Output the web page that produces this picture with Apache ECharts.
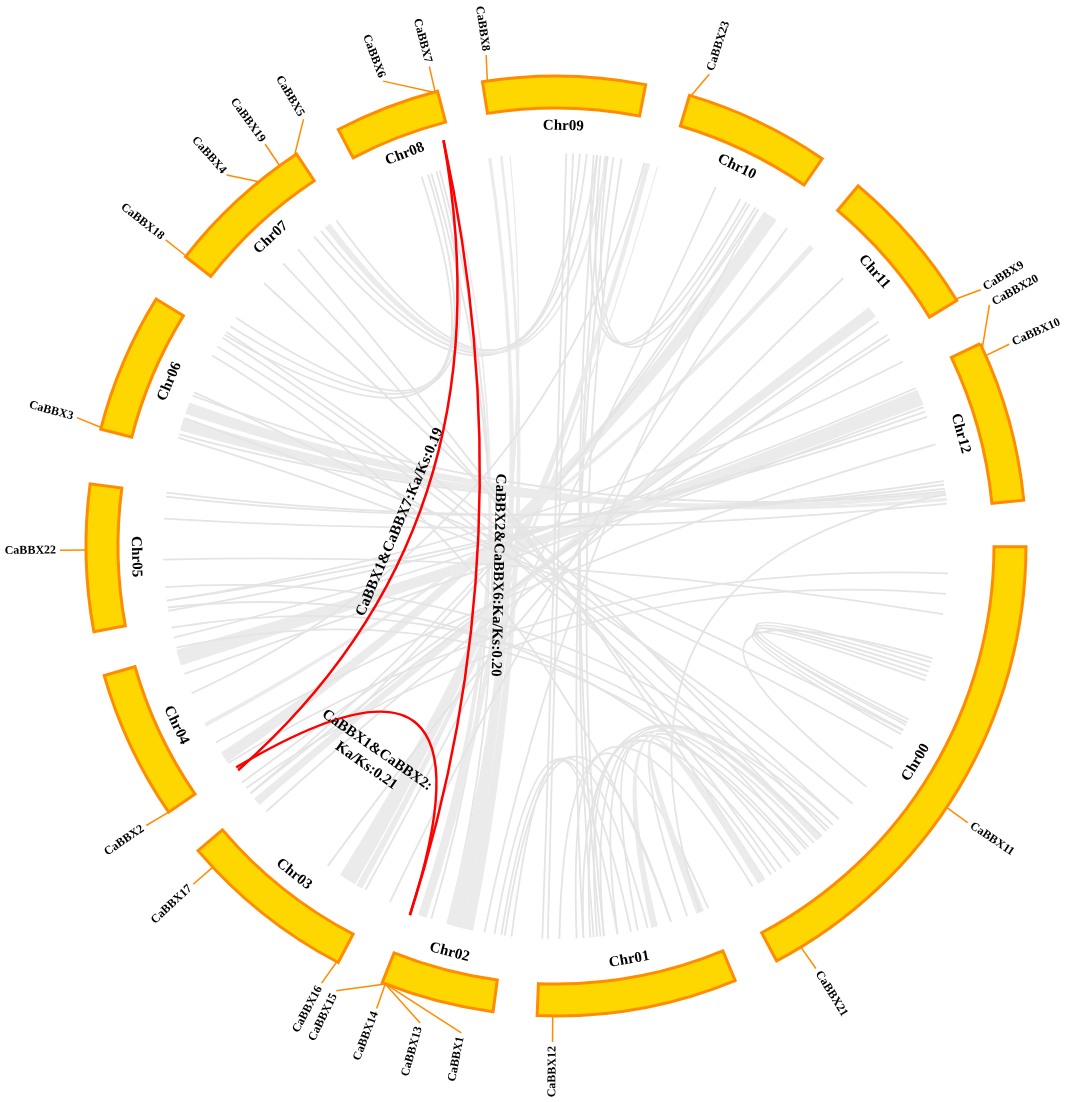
<!DOCTYPE html>
<html>
<head>
<meta charset="utf-8">
<script src="https://cdn.jsdelivr.net/npm/echarts/dist/echarts.min.js"></script>
<style>
html, body { margin: 0; padding: 0; background: #fff; }
#main { width: 1065px; height: 1102px; }
</style>
</head>
<body>
<div id="main"></div>
<script>
// angles are degrees clockwise from 12 o'clock
const chrNames = ['Chr00', 'Chr01', 'Chr02', 'Chr03', 'Chr04', 'Chr05', 'Chr06', 'Chr07', 'Chr08', 'Chr09', 'Chr10', 'Chr11', 'Chr12'];
const chrStart = [90.1, 157.6, 187.7, 207.6, 235.5, 259.5, 284.4, 308, 332.4, 351, 16.5, 40, 64.5];
const chrEnd = [152, 182.3, 201.7, 229.6, 254, 277.6, 301.7, 326.5, 345.4, 371, 34.5, 58.5, 84.4];

const geneNames = ['CaBBX1', 'CaBBX2', 'CaBBX3', 'CaBBX4', 'CaBBX5', 'CaBBX6', 'CaBBX7', 'CaBBX8', 'CaBBX9', 'CaBBX10',
  'CaBBX11', 'CaBBX12', 'CaBBX13', 'CaBBX14', 'CaBBX15', 'CaBBX16', 'CaBBX17', 'CaBBX18', 'CaBBX19', 'CaBBX20',
  'CaBBX21', 'CaBBX22', 'CaBBX23'];
const geneAngle = [201.3, 235.5, 284.6, 320.8, 326.2, 344.9, 345.1, 351.6, 58.3, 66.1,
  123.8, 180.4, 201.3, 201.3, 201.3, 207.8, 226.9, 308.1, 324, 65.1,
  148.6, 269.5, 16.7];
const geneLabelAngle = [191, 235.7, 285, 318.4, 329.4, 339.6, 345.2, 351.9, 58.9, 66,
  123.9, 180.4, 195.9, 201.2, 206.3, 208.2, 227, 308.1, 324.1, 60.9,
  148.4, 269.5, 18];

// collinear blocks: [angle A, angle B, width at A, width at B] (widths in degrees, 0 = single line)
const grayLinks = [
  [341.5, 196, 0, 0], [342.8, 198.5, 0, 0], [344, 200, 0, 0.8],
  [350.3, 195, 0.3, 2.2], [352, 193, 0.2, 1.5], [353.3, 199.8, 0, 1],
  [6, 173.5, 0, 0], [7.2, 174.5, 0, 0], [8.4, 176, 0, 0], [9.6, 173, 0, 0],
  [322, 4.5, 0, 0], [323.3, 6, 0, 0], [324.5, 7.5, 0.8, 0.3], [326, 3.5, 0, 0],
  [302.5, 341, 0, 0], [304, 342.3, 0, 0], [305.5, 340, 0, 0],
  [6.5, 29, 0, 0], [7.5, 31, 0, 0], [5.5, 28, 0, 0],
  [33, 237.5, 2, 1.5], [29.5, 229, 0, 0], [30.5, 231, 0, 0], [24, 209, 0, 0],
  [13.5, 212, 0.5, 2.4], [15, 210, 0, 0.8], [40.5, 243, 0.6, 0.4],
  [53.5, 229.5, 1.5, 1], [55.2, 231, 0, 0], [57.5, 227.5, 0, 0], [58.2, 233, 0, 0],
  [67.8, 253.5, 2.2, 2.2], [69.3, 251, 0, 0], [66.3, 256.5, 0, 0], [70, 260.5, 0, 0], [70.8, 262, 0, 0],
  [81.6, 286.5, 0, 0], [82.4, 288, 0.4, 1.6], [83.2, 290.5, 0.3, 1.6], [82, 292.5, 0, 0],
  [81, 277.8, 0, 0], [83.8, 274, 0, 0], [80.5, 277.2, 0, 0],
  [286, 121, 0, 0], [289, 118, 0, 0], [293, 131, 0, 0],
  [302, 138, 0, 0], [300.5, 140.5, 0, 0], [303, 134, 0, 0],
  [312, 136.5, 0, 0], [316, 146, 0, 0], [319, 148, 0, 0],
  [107.2, 116.2, 0, 0], [107.9, 117.1, 0, 0], [108.6, 117.9, 0, 0], [109.3, 116.7, 0, 0], [110, 118.6, 0, 0], [106.6, 127.8, 0, 0],
  [177, 157.2, 0, 0], [173, 136, 0, 0], [171, 139, 0, 0], [175, 141.6, 0, 0], [168, 146.8, 0, 0],
  [176, 135.2, 0, 0], [165.5, 138, 0.8, 0.8], [160.5, 143.5, 0, 0], [158.5, 148.5, 1, 1],
  [179.5, 150, 0, 0], [174, 145, 0, 0],
  [188, 166.5, 0, 0], [186.5, 171, 0, 0], [189, 169, 0, 0], [187.5, 163, 0, 0],
  [182, 1.5, 0, 0], [181.2, 2.5, 0, 0],
  [255, 140, 0, 0], [258, 137.5, 0, 0], [264, 134, 0, 0], [261, 142, 0, 0],
  [232, 97, 0, 0], [236.5, 94, 0, 0], [262, 62, 0, 0], [190.5, 31, 0, 0], [215.5, 47, 0, 0],
  [248, 13, 0, 0], [268, 100, 0, 0], [240, 75, 0, 0], [36, 205, 0, 0], [82.5, 158.5, 0, 0], [163, 299, 0, 0]
];

// highlighted pairs: [angle A, radius A, angle B, radius B]
const redLinks = [
  [234.8, 389, 344.5, 421],
  [235.3, 389, 201.6, 397],
  [344.5, 421, 201.6, 397]
];
const redLabelText = ['CaBBX1&CaBBX7:Ka/Ks:0.19', 'CaBBX2&CaBBX6:Ka/Ks:0.20', 'CaBBX1&CaBBX2:\nKa/Ks:0.21'];
const redLabelAngle = [278.7, 243.4, 221];
const redLabelRadius = [158, 65, 281];
const redLabelRotation = [67, -91.4, -35];

const LINK_R = 393;
const CHR_R0 = 438, CHR_R1 = 470;
const TICK_R = 496, GENE_LABEL_R = 500, CHR_LABEL_R = 420;
const FONT = '"Liberation Serif", "Times New Roman", serif';

const fmt = p => p[0].toFixed(1) + ' ' + p[1].toFixed(1);

function ctrl(O, P, Q, k) {
  return [O[0] + k * ((P[0] + Q[0]) / 2 - O[0]), O[1] + k * ((P[1] + Q[1]) / 2 - O[1])];
}

function linePath(api, a, ra, b, rb, k) {
  const O = api.coord([0, 0]);
  const P = api.coord([ra, a]), Q = api.coord([rb, b]);
  return 'M' + fmt(P) + 'Q' + fmt(ctrl(O, P, Q, k)) + ' ' + fmt(Q);
}

function ribbonPath(api, a, b, wa, wb, r, k) {
  const O = api.coord([0, 0]);
  const A1 = api.coord([r, a - wa / 2]), A2 = api.coord([r, a + wa / 2]);
  const B1 = api.coord([r, b - wb / 2]), B2 = api.coord([r, b + wb / 2]);
  return 'M' + fmt(A1) + 'L' + fmt(A2) + 'Q' + fmt(ctrl(O, A2, B1, k)) + ' ' + fmt(B1) +
    'L' + fmt(B2) + 'Q' + fmt(ctrl(O, B2, A1, k)) + ' ' + fmt(A1) + 'Z';
}

function norm(a) { return ((a % 360) + 360) % 360; }

const chart = echarts.init(document.getElementById('main'));

chart.setOption({
  animation: false,
  backgroundColor: '#fff',
  polar: { center: [556, 546], radius: [0, 560] },
  angleAxis: { type: 'value', min: 0, max: 360, startAngle: 90, clockwise: true, show: false },
  radiusAxis: { type: 'value', min: 0, max: 560, show: false },
  series: [
    {
      type: 'custom',
      coordinateSystem: 'polar',
      silent: true,
      z: 1,
      data: grayLinks,
      renderItem: (params, api) => {
        const a = api.value(0), b = api.value(1), wa = api.value(2), wb = api.value(3);
        if (!wa && !wb) {
          return {
            type: 'path', shape: { pathData: linePath(api, a, LINK_R, b, LINK_R, 0.1) },
            style: { fill: null, stroke: '#e4e4e4', lineWidth: 1.8 }
          };
        }
        return {
          type: 'path', shape: { pathData: ribbonPath(api, a, b, wa, wb, LINK_R, 0.1) },
          style: { fill: '#ebebeb', stroke: '#ebebeb', lineWidth: 1.2 }
        };
      }
    },
    {
      type: 'custom',
      coordinateSystem: 'polar',
      silent: true,
      z: 2,
      data: redLinks,
      renderItem: (params, api) => ({
        type: 'path',
        shape: { pathData: linePath(api, api.value(0), api.value(1), api.value(2), api.value(3), 0.2) },
        style: { fill: null, stroke: '#ff0000', lineWidth: 2.5 }
      })
    },
    {
      type: 'custom',
      coordinateSystem: 'polar',
      silent: true,
      z: 3,
      data: redLabelAngle.map((a, i) => [redLabelRadius[i], a]),
      renderItem: (params, api) => {
        const i = params.dataIndex;
        const p = api.coord([api.value(0), api.value(1)]);
        return {
          type: 'text', x: p[0], y: p[1], rotation: redLabelRotation[i] * Math.PI / 180,
          style: {
            text: redLabelText[i], fill: '#000', fontSize: 15, fontWeight: 'bold', fontFamily: FONT,
            align: 'center', verticalAlign: 'middle', lineHeight: 19
          }
        };
      }
    },
    {
      type: 'custom',
      coordinateSystem: 'polar',
      silent: true,
      z: 4,
      data: chrStart.map((s, i) => [s, chrEnd[i]]),
      renderItem: (params, api) => {
        const i = params.dataIndex;
        const s = api.value(0), e = api.value(1);
        const O = api.coord([0, 0]);
        const P = api.coord([CHR_R1, s]), Q = api.coord([CHR_R1, e]);
        const sa = Math.atan2(P[1] - O[1], P[0] - O[0]);
        let ea = Math.atan2(Q[1] - O[1], Q[0] - O[0]);
        while (ea < sa) ea += Math.PI * 2;
        const m = (s + e) / 2;
        const L = api.coord([CHR_LABEL_R, m]);
        const n = norm(m);
        const rot = (n > 90 && n < 270) ? 180 - n : -n;
        return {
          type: 'group',
          children: [
            {
              type: 'sector',
              shape: { cx: O[0], cy: O[1], r0: CHR_R0, r: CHR_R1, startAngle: sa, endAngle: ea, clockwise: true },
              style: { fill: '#ffd700', stroke: '#ff8c00', lineWidth: 3 }
            },
            {
              type: 'text', x: L[0], y: L[1], rotation: rot * Math.PI / 180,
              style: {
                text: chrNames[i], fill: '#000', fontSize: 15, fontWeight: 'bold', fontFamily: FONT,
                align: 'center', verticalAlign: 'middle'
              }
            }
          ]
        };
      }
    },
    {
      type: 'custom',
      coordinateSystem: 'polar',
      silent: true,
      z: 5,
      data: geneAngle.map((a, i) => [a, geneLabelAngle[i]]),
      renderItem: (params, api) => {
        const i = params.dataIndex;
        const a = api.value(0), la = api.value(1);
        const O = api.coord([0, 0]);
        const P0 = api.coord([CHR_R1, a]), P1 = api.coord([TICK_R, la]);
        const T = api.coord([GENE_LABEL_R, la]);
        const dx = T[0] - O[0], dy = T[1] - O[1], len = Math.hypot(dx, dy);
        const ux = dx / len, uy = dy / len;
        const n = norm(la);
        const right = n > 0 && n < 180;
        const rot = right ? Math.atan2(-uy, ux) : Math.atan2(uy, -ux);
        return {
          type: 'group',
          children: [
            {
              type: 'line',
              shape: { x1: P0[0], y1: P0[1], x2: P1[0], y2: P1[1] },
              style: { stroke: '#ff8c00', lineWidth: 1.5 }
            },
            {
              type: 'text', x: T[0], y: T[1], rotation: rot,
              style: {
                text: geneNames[i], fill: '#000', fontSize: 12, fontWeight: 'bold', fontFamily: FONT,
                align: right ? 'left' : 'right', verticalAlign: 'middle'
              }
            }
          ]
        };
      }
    }
  ]
});
</script>
</body>
</html>
